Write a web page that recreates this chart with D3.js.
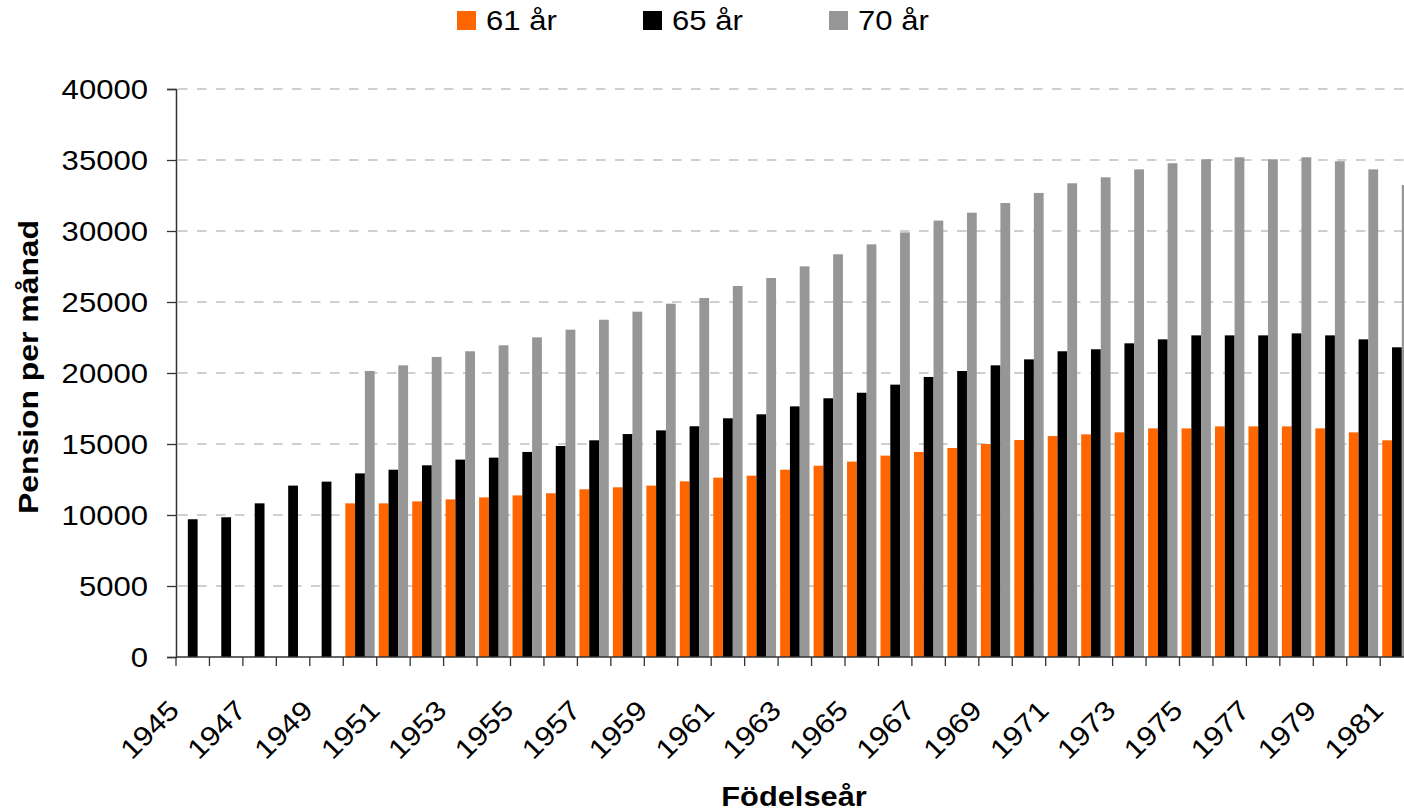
<!DOCTYPE html>
<html>
<head>
<meta charset="utf-8">
<script src="https://cdn.jsdelivr.net/npm/d3@7"></script>
<style>
  html, body { margin: 0; padding: 0; background: #fff; }
  svg { display: block; }
  text { font-family: "Liberation Sans", Arial, sans-serif; fill: #000; }
</style>
</head>
<body>
<svg id="chart" width="1404" height="811"></svg>
<script>
// ---- Data ----
const years = d3.range(1945, 1982).map(String);
const seriesNames = ["61 år", "65 år", "70 år"];
const seriesColors = ["#FF6600", "#000000", "#969696"];

const pension61 = [
  null, null, null, null, null,
  10820, 10820, 10960, 11100, 11240, 11380, 11530, 11810, 11950, 12070, 12370,
  12630, 12770, 13190, 13470, 13760, 14180, 14440, 14720, 15000, 15280, 15560,
  15680, 15820, 16100, 16100, 16240, 16240, 16240, 16100, 15820, 15260
];
const pension65 = [
  9700, 9840, 10820, 12070, 12350,
  12930, 13190, 13500, 13900, 14040, 14440, 14860, 15260, 15700, 15960, 16250,
  16810, 17090, 17650, 18220, 18610, 19180, 19720, 20140, 20540, 20960, 21530,
  21670, 22090, 22370, 22650, 22650, 22650, 22790, 22650, 22370, 21810
];
const pension70 = [
  null, null, null, null, null,
  20140, 20540, 21130, 21530, 21950, 22510, 23050, 23750, 24320, 24880, 25280,
  26130, 26690, 27510, 28360, 29060, 29900, 30730, 31290, 31970, 32680, 33360,
  33780, 34340, 34770, 35050, 35190, 35050, 35190, 34910, 34340, 33240
];
const yTicks = [0, 5000, 10000, 15000, 20000, 25000, 30000, 35000, 40000];
const xLabelYears = years.filter((d, i) => i % 2 === 0);
const yTitle = "Pension per månad";
const xTitle = "Födelseår";

// ---- Layout ----
const svg = d3.select("#chart");
const plotLeft = 176, plotTop = 89, plotBottom = 657;
const step = 33.45;
const plotRight = plotLeft + step * years.length;
const SX = 1.13; // horizontal text stretch seen in the reference
const FS = 27.5;

const x = d3.scaleBand().domain(years).range([plotLeft, plotRight]).paddingInner(0).paddingOuter(0);
const xs = d3.scaleBand().domain(seriesNames).range([0, x.bandwidth()]).paddingInner(0).paddingOuter(0.21);
const y = d3.scaleLinear().domain([0, 40000]).range([plotBottom, plotTop]);

// gridlines
svg.append("g").selectAll("line").data(yTicks.filter(d => d > 0)).join("line")
  .attr("x1", plotLeft + 2).attr("x2", 1404)
  .attr("y1", d => y(d)).attr("y2", d => y(d))
  .attr("stroke", "#C0C0C0").attr("stroke-width", 1.5)
  .attr("stroke-dasharray", "9.5,9.5");

// bars
const seriesData = [pension61, pension65, pension70];
const barsG = svg.append("g");
seriesData.forEach((vals, si) => {
  barsG.append("g").selectAll("rect")
    .data(years.map((yr, i) => ({ yr, v: vals[i] })).filter(d => d.v != null))
    .join("rect")
    .attr("x", d => x(d.yr) + xs(seriesNames[si]))
    .attr("width", xs.bandwidth())
    .attr("y", d => y(d.v))
    .attr("height", d => y(0) - y(d.v))
    .attr("fill", seriesColors[si]);
});

// Y axis
const yAxis = d3.axisLeft(y).tickValues(yTicks).tickSize(9).tickFormat(d3.format("d"));
const yg = svg.append("g").attr("transform", `translate(${plotLeft},0)`).call(yAxis);
yg.select(".domain").attr("stroke", "#333").attr("stroke-width", 1.5);
yg.selectAll(".tick line").attr("stroke", "#333").attr("stroke-width", 1.3);
yg.selectAll(".tick text")
  .attr("x", null).attr("dy", null)
  .attr("font-size", FS)
  .attr("text-anchor", "end")
  .attr("dominant-baseline", "central")
  .attr("transform", `translate(-28,0) scale(${SX},1)`)
  .style("font-family", "'Liberation Sans', Arial, sans-serif");

// X axis (ticks at category boundaries)
svg.append("line")
  .attr("x1", plotLeft).attr("x2", 1404).attr("y1", plotBottom).attr("y2", plotBottom)
  .attr("stroke", "#333").attr("stroke-width", 1.5);
svg.append("g").selectAll("line").data(years).join("line")
  .attr("x1", d => x(d)).attr("x2", d => x(d))
  .attr("y1", plotBottom).attr("y2", plotBottom + 9)
  .attr("stroke", "#333").attr("stroke-width", 1.3);

svg.append("g").selectAll("text").data(xLabelYears).join("text")
  .attr("text-anchor", "end")
  .attr("font-size", FS)
  .attr("transform", d => `translate(${x(d) + x.bandwidth() / 2 - 12},${712}) rotate(-45) scale(${SX},1)`)
  .text(d => d);

// Axis titles
svg.append("text")
  .attr("text-anchor", "middle").attr("font-size", 27.5).attr("font-weight", "bold")
  .attr("transform", `translate(38,367) rotate(-90) scale(1.16,1)`)
  .text(yTitle);
svg.append("text")
  .attr("text-anchor", "middle").attr("font-size", 27.5).attr("font-weight", "bold")
  .attr("transform", `translate(794,806) scale(1.12,1)`)
  .text(xTitle);

// Legend
const legendX = [457, 643, 829];
const lg = svg.append("g").selectAll("g").data(seriesNames).join("g")
  .attr("transform", (d, i) => `translate(${legendX[i]},0)`);
lg.append("rect").attr("x", 0).attr("y", 11).attr("width", 19).attr("height", 19)
  .attr("fill", (d, i) => seriesColors[i]);
lg.append("text").attr("font-size", FS)
  .attr("transform", `translate(29,30) scale(${SX},1)`)
  .text(d => d);
</script>
</body>
</html>
